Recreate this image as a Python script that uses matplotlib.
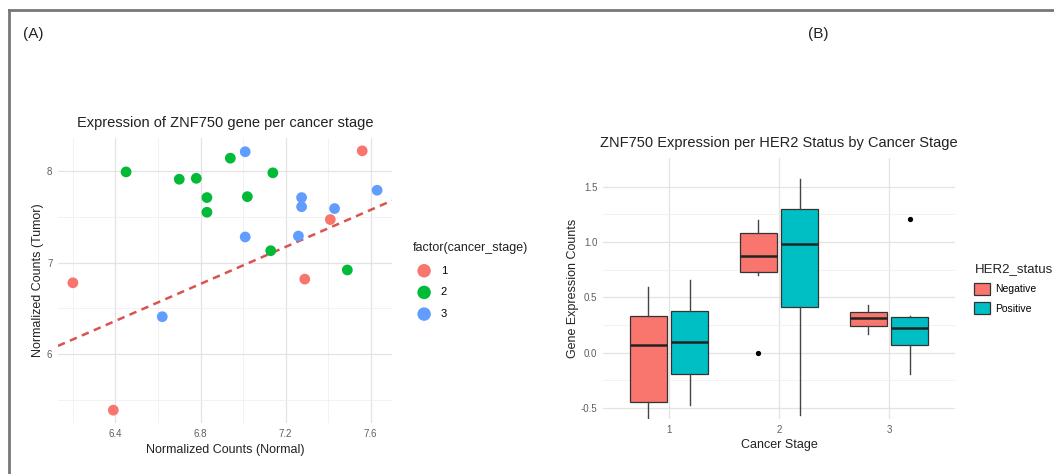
import matplotlib
matplotlib.use("Agg")
import matplotlib.pyplot as plt
from matplotlib.patches import Patch
from matplotlib.lines import Line2D
import numpy as np

plt.rcParams['font.family'] = ['Liberation Sans', 'DejaVu Sans']

# ---- Panel A data: normalized counts per cancer stage ----
stage_labels = ["1", "2", "3"]
stage_colors = ["#F8766D", "#00BA38", "#619CFF"]

normal_s1 = [6.20, 6.39, 7.56, 7.41, 7.29]
tumor_s1 = [6.78, 5.39, 8.22, 7.47, 6.82]

normal_s2 = [6.45, 6.70, 6.78, 6.83, 6.83, 6.94, 7.02, 7.14, 7.13, 7.49]
tumor_s2 = [7.99, 7.91, 7.92, 7.71, 7.55, 8.14, 7.72, 7.98, 7.13, 6.92]

normal_s3 = [7.01, 7.01, 6.62, 7.275, 7.275, 7.26, 7.43, 7.63]
tumor_s3 = [8.21, 7.28, 6.41, 7.71, 7.61, 7.29, 7.59, 7.79]

ref_intercept = -0.1
ref_slope = 1.01

# ---- Panel B data: box statistics per stage and HER2 status ----
stages = [1, 2, 3]
her2_labels = ["Negative", "Positive"]
her2_colors = ["#F8766D", "#00BFC4"]

neg_whislo = [-0.59, 0.70, 0.17]
neg_q1 = [-0.45, 0.73, 0.24]
neg_med = [0.07, 0.87, 0.31]
neg_q3 = [0.33, 1.08, 0.37]
neg_whishi = [0.59, 1.20, 0.43]
neg_fliers = [[], [0.0], []]

pos_whislo = [-0.47, -0.56, -0.19]
pos_q1 = [-0.19, 0.41, 0.07]
pos_med = [0.10, 0.98, 0.22]
pos_q3 = [0.38, 1.30, 0.32]
pos_whishi = [0.66, 1.57, 0.33]
pos_fliers = [[], [], [1.21]]

W, H = 1054, 474
fig = plt.figure(figsize=(W / 100, H / 100), dpi=100)


def fx(px):
    return px / W


def fy(py):
    return 1 - py / H


# outer frame (top and left edges only)
fig.add_artist(Line2D([fx(9), 1], [fy(10), fy(10)], color="#777777", lw=2))
fig.add_artist(Line2D([fx(9), fx(9)], [fy(10), 0], color="#777777", lw=2))
fig.text(fx(33), fy(34), "(A)", fontsize=11, ha="center", va="center", color="#222222")
fig.text(fx(818), fy(34), "(B)", fontsize=11, ha="center", va="center", color="#222222")

tick_color = "#5e5e5e"
major_grid = "#e3e3e3"
minor_grid = "#f0f0f0"


def style_minimal(ax):
    for s in ax.spines.values():
        s.set_visible(False)
    ax.tick_params(length=0, labelsize=7, colors=tick_color, pad=4)
    ax.set_axisbelow(True)


# ---------------- Panel A ----------------
axA = fig.add_axes([fx(58), fy(423), fx(392) - fx(58), fy(138) - fy(423)])
style_minimal(axA)
axA.set_xlim(6.13, 7.70)
axA.set_ylim(5.25, 8.36)
axA.set_xticks([6.4, 6.8, 7.2, 7.6])
axA.set_yticks([6, 7, 8])
axA.set_xticks([6.2, 6.6, 7.0, 7.4], minor=True)
axA.set_yticks([5.5, 6.5, 7.5], minor=True)
axA.tick_params(which="minor", length=0)
axA.grid(True, which="major", color=major_grid, lw=0.9)
axA.grid(True, which="minor", color=minor_grid, lw=0.6)

groups = [(normal_s1, tumor_s1), (normal_s2, tumor_s2), (normal_s3, tumor_s3)]
for (xs, ys), lab, col in zip(groups, stage_labels, stage_colors):
    axA.scatter(xs, ys, s=60, color=col, edgecolors="none", label=lab, zorder=3)

axA.axline((0, ref_intercept), slope=ref_slope, color="#D9534F", lw=1.8,
           dashes=(3, 2.2), zorder=2)

axA.set_title("Expression of ZNF750 gene per cancer stage", fontsize=10.5,
              color="#222222", pad=8)
axA.set_xlabel("Normalized Counts (Normal)", fontsize=9, color="#222222", labelpad=4)
axA.set_ylabel("Normalized Counts (Tumor)", fontsize=9, color="#222222", labelpad=2)

legA = fig.legend(*axA.get_legend_handles_labels(), title="factor(cancer_stage)",
                  loc="upper left", bbox_to_anchor=(fx(403), fy(232)),
                  frameon=False, fontsize=8, title_fontsize=9, handletextpad=0.5,
                  labelspacing=1.05, alignment="left", markerscale=1.25)
legA.get_title().set_color("#222222")

# ---------------- Panel B ----------------
axB = fig.add_axes([fx(603), fy(419), fx(955) - fx(603), fy(158) - fy(419)])
style_minimal(axB)
axB.set_xlim(0.4, 3.6)
axB.set_ylim(-0.6, 1.76)
axB.set_xticks(stages)
axB.set_yticks([-0.5, 0.0, 0.5, 1.0, 1.5])
axB.set_yticklabels(["-0.5", "0.0", "0.5", "1.0", "1.5"])
axB.set_yticks([-0.25, 0.25, 0.75, 1.25], minor=True)
axB.tick_params(which="minor", length=0)
axB.grid(True, which="major", color=major_grid, lw=0.9)
axB.yaxis.grid(True, which="minor", color=minor_grid, lw=0.6)

dodge = 0.1875
box_w = 0.34
series = [
    (neg_whislo, neg_q1, neg_med, neg_q3, neg_whishi, neg_fliers, -dodge, her2_colors[0]),
    (pos_whislo, pos_q1, pos_med, pos_q3, pos_whishi, pos_fliers, dodge, her2_colors[1]),
]
for wl, q1, med, q3, wh, fl, off, col in series:
    stats = []
    for i in range(len(stages)):
        stats.append(dict(whislo=wl[i], q1=q1[i], med=med[i], q3=q3[i],
                          whishi=wh[i], fliers=fl[i]))
    axB.bxp(stats, positions=[s + off for s in stages], widths=box_w,
            patch_artist=True, showcaps=False, manage_ticks=False,
            boxprops=dict(facecolor=col, edgecolor="#333333", lw=0.9),
            medianprops=dict(color="#222222", lw=1.8),
            whiskerprops=dict(color="#444444", lw=1.0),
            flierprops=dict(marker="o", markersize=2.8, markerfacecolor="black",
                            markeredgecolor="black"))

axB.set_title("ZNF750 Expression per HER2 Status by Cancer Stage", fontsize=10.5,
              color="#222222", pad=8)
axB.set_xlabel("Cancer Stage", fontsize=9, color="#222222", labelpad=3)
axB.set_ylabel("Gene Expression Counts", fontsize=9, color="#222222", labelpad=1)

handlesB = [Patch(facecolor=c, edgecolor="#333333", lw=0.9) for c in her2_colors]
legB = fig.legend(handlesB, her2_labels, title="HER2_status", loc="upper left",
                  bbox_to_anchor=(fx(965), fy(254)), frameon=False, fontsize=7.5,
                  title_fontsize=9.5, handlelength=1.5, handleheight=1.3,
                  handletextpad=0.5, labelspacing=0.75, alignment="left")
legB.get_title().set_color("#222222")

fig.savefig("out.png", dpi=100, facecolor="white")
